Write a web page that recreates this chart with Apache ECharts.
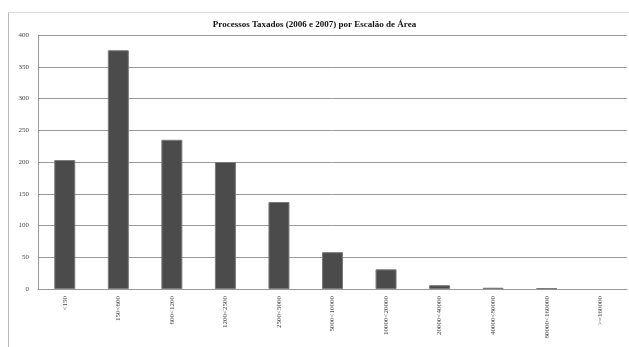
<!DOCTYPE html>
<html>
<head>
<meta charset="utf-8">
<script src="https://cdn.jsdelivr.net/npm/echarts@6/dist/echarts.min.js"></script>
<style>
  html, body { margin: 0; padding: 0; background: #fff; }
  #chart { width: 629px; height: 347px; }
  #frame { position: absolute; left: 8px; top: 12px; width: 640px; height: 400px;
           border-left: 1px solid #bbb; border-top: 1px solid #ddd; pointer-events: none; }
</style>
</head>
<body>
<div id="frame"></div>
<div id="chart"></div>
<script>
// Area brackets (m²) and number of taxed processes, 2006–2007
const categories = ['<150', '150<600', '600<1200', '1200<2500', '2500<5000', '5000<10000',
  '10000<20000', '20000<40000', '40000<80000', '80000<160000', '>=160000'];
const processos = [203, 376, 235, 200, 137, 58, 31, 6, 2, 1, 0];
const yTicks = [0, 50, 100, 150, 200, 250, 300, 350, 400];

// Empty brackets get no outline so nothing is drawn on the baseline
const barData = processos.map(v => ({
  value: v,
  itemStyle: { borderWidth: v > 0 ? 1 : 0 }
}));

const chart = echarts.init(document.getElementById('chart'));
chart.setOption({
  animation: false,
  title: {
    text: 'Processos Taxados (2006 e 2007) por Escalão de Área',
    left: 'center',
    top: 15,
    textStyle: { fontFamily: 'Liberation Serif', fontSize: 9, fontWeight: 'bold', color: '#111' }
  },
  grid: { left: 38, right: 2, top: 35, bottom: 58, containLabel: false },
  xAxis: {
    type: 'category',
    data: categories,
    axisLine: { lineStyle: { color: '#999', width: 1 } },
    axisTick: { show: false },
    axisLabel: {
      rotate: 90, interval: 0, margin: 7,
      fontFamily: 'Liberation Serif', fontSize: 7, color: '#444'
    }
  },
  yAxis: {
    type: 'value',
    min: yTicks[0],
    max: yTicks[yTicks.length - 1],
    interval: 50,
    axisLine: { show: true, lineStyle: { color: '#999', width: 1 } },
    axisTick: { show: false },
    axisLabel: { margin: 9, fontFamily: 'Liberation Serif', fontSize: 7, color: '#444' },
    splitLine: { lineStyle: { color: '#999', width: 1 } }
  },
  series: [{
    type: 'bar',
    data: barData,
    barWidth: 21,
    itemStyle: { color: '#4b4b4b', borderColor: '#7a7a7a', borderWidth: 1 }
  }]
});
</script>
</body>
</html>
